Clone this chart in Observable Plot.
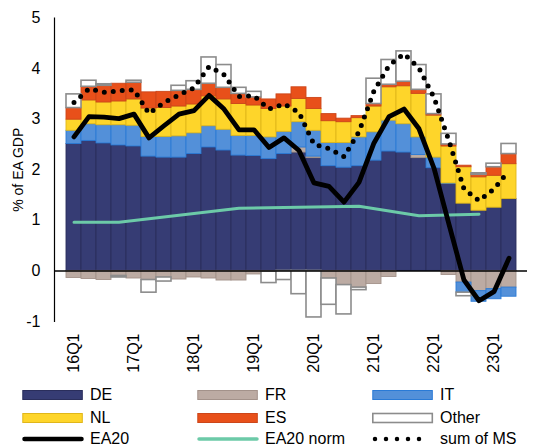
<!DOCTYPE html>
<html><head><meta charset="utf-8">
<script src="https://cdn.jsdelivr.net/npm/d3@7"></script>
<script src="https://cdn.jsdelivr.net/npm/@observablehq/plot@0.6"></script>
<style>
body{margin:0;background:#fff;font-family:"Liberation Sans",Arial,sans-serif;}
#legend{position:relative;width:533px;height:73px;font-size:16px;color:#000;}
.item{position:absolute;display:flex;align-items:center;height:18px;line-height:18px;}
.item svg{margin-right:6px;display:block}
</style></head><body>
<div id="chart"></div><div id="legend"></div>
<script>
const quarters = ["16Q1","16Q2","16Q3","16Q4","17Q1","17Q2","17Q3","17Q4","18Q1","18Q2","18Q3","18Q4",
  "19Q1","19Q2","19Q3","19Q4","20Q1","20Q2","20Q3","20Q4","21Q1","21Q2","21Q3","21Q4",
  "22Q1","22Q2","22Q3","22Q4","23Q1","23Q2"];
const tickLabels = ["16Q1","17Q1","18Q1","19Q1","20Q1","21Q1","22Q1","23Q1"];
const yTicks = [-1, 0, 1, 2, 3, 4, 5];

const DE    = [2.51,2.57,2.52,2.48,2.46,2.26,2.24,2.24,2.31,2.44,2.38,2.28,2.27,2.21,2.31,2.34,2.23,2.07,2.04,2.07,2.18,2.36,2.34,2.23,2.03,1.72,1.33,1.19,1.25,1.42];
const FR    = [-0.14,-0.16,-0.18,-0.10,-0.15,-0.18,-0.13,-0.17,-0.13,-0.15,-0.19,-0.19,-0.07,-0.01,0,0.10,0.03,-0.15,-0.28,-0.33,-0.26,-0.12,0,0.06,0,-0.08,-0.23,-0.40,-0.36,-0.33];
const IT    = [0.26,0.33,0.36,0.40,0.41,0.39,0.41,0.42,0.41,0.42,0.41,0.39,0.40,0.43,0.44,0.50,0.51,0.46,0.49,0.57,0.56,0.61,0.56,0.35,0.21,0.01,-0.20,-0.21,-0.20,-0.18];
const NL    = [0.22,0.47,0.45,0.47,0.52,0.56,0.57,0.59,0.57,0.59,0.60,0.63,0.60,0.56,0.50,0.46,0.43,0.43,0.41,0.38,0.51,0.66,0.75,0.86,0.83,0.73,0.72,0.66,0.63,0.69];
const ES    = [0.23,0.27,0.33,0.35,0.33,0.32,0.32,0.31,0.29,0.25,0.23,0.20,0.16,0.19,0.24,0.23,0.22,0.14,0.07,0.04,0.05,0.05,0.09,0.08,0.03,0.04,0.03,0.05,0.17,0.20];
const Other = [0.27,0.12,0.03,-0.03,0.04,-0.25,-0.08,0.10,0.17,0.52,0.45,0.12,0.11,-0.23,-0.18,-0.46,-0.92,-0.52,-0.58,-0.05,0.50,0.49,0.60,0.49,0.39,0.21,-0.07,0.03,0.07,0.20];

const EA20  = [2.65,3.05,3.04,3.01,3.10,2.63,2.87,3.10,3.17,3.47,3.20,2.79,2.79,2.44,2.63,2.38,1.74,1.67,1.36,1.75,2.53,3.05,3.20,2.81,2.03,0.92,-0.18,-0.59,-0.41,0.25];
const sumMS = [3.33,3.60,3.53,3.56,3.58,3.11,3.33,3.48,3.62,4.04,3.88,3.45,3.46,3.20,3.30,3.13,2.50,2.42,2.26,2.75,3.56,4.06,4.29,4.01,3.43,2.57,1.62,1.39,1.62,1.98];

const normQuarters = ["16Q1","16Q4","18Q4","20Q4","21Q4","22Q4"];
const normValues   = [0.96,0.96,1.24,1.28,1.09,1.12];

const seriesNames = ["DE","FR","IT","NL","ES","Other"];
const seriesArrays = [DE, FR, IT, NL, ES, Other];
const fills   = {DE:"#363c74", FR:"#bcaba3", IT:"#5390d9", NL:"#fed52a", ES:"#e8501a", Other:"#ffffff"};
const strokes = {DE:"#2a2e5c", FR:"#a3928a", IT:"#2a7ad6", NL:"#e0b61a", ES:"#cc461a", Other:"#8c8c8c"};

const rows = seriesNames.flatMap((s, k) => seriesArrays[k].map((v, i) => ({q: quarters[i], s, v}))).filter(d => d.v !== 0);
const eaRows = EA20.map((v, i) => ({q: quarters[i], v}));
const msRows = sumMS.map((v, i) => ({q: quarters[i], v}));
const normRows = normValues.map((v, i) => ({q: normQuarters[i], v}));

const chart = Plot.plot({
  width: 533, height: 375,
  marginLeft: 54, marginRight: 6, marginTop: 17.5, marginBottom: 54,
  style: {fontSize: "16px", fontFamily: "'Liberation Sans', Arial, sans-serif", color: "#000", background: "#fff"},
  x: {domain: quarters, padding: 0, label: null},
  y: {domain: [-1, 5], label: null},
  marks: [
    Plot.barY(rows, Plot.stackY({
      x: "q", y: "v", z: "s", order: seriesNames,
      fill: d => fills[d.s], stroke: d => strokes[d.s],
      strokeWidth: d => d.s === "Other" ? 1.6 : 0.9
    })),
    Plot.ruleY([0], {stroke: "#000", strokeWidth: 1.5}),
    Plot.frame({anchor: "left", stroke: "#000", strokeWidth: 1.2}),
    Plot.axisY({ticks: yTicks, tickFormat: d => String(d), tickSize: 0, tickPadding: 14, label: null, fontSize: 16}),
    Plot.axisX({ticks: tickLabels, tickRotate: -90, tickSize: 0, tickPadding: 12, label: null, fontSize: 16}),
    Plot.text(["% of EA GDP"], {frameAnchor: "left", dx: -36, rotate: -90, textAnchor: "middle", fontSize: 14}),
    Plot.line(normRows, {x: "q", y: "v", stroke: "#6ccaa8", strokeWidth: 3}),
    Plot.line(eaRows, {x: "q", y: "v", stroke: "#000", strokeWidth: 4.8, strokeLinejoin: "round", strokeLinecap: "round"}),
    Plot.line(msRows, {x: "q", y: "v", stroke: "#000", strokeWidth: 5, strokeDasharray: "0,9", strokeLinecap: "round"})
  ]
});
document.getElementById("chart").appendChild(chart);

// legend
const legendItems = [
  {name: "DE", kind: "rect", col: 0, row: 0},
  {name: "FR", kind: "rect", col: 1, row: 0},
  {name: "IT", kind: "rect", col: 2, row: 0},
  {name: "NL", kind: "rect", col: 0, row: 1},
  {name: "ES", kind: "rect", col: 1, row: 1},
  {name: "Other", kind: "rect", col: 2, row: 1},
  {name: "EA20", kind: "line", col: 0, row: 2},
  {name: "EA20 norm", kind: "norm", col: 1, row: 2},
  {name: "sum of MS", kind: "dots", col: 2, row: 2}
];
const colX = [22, 197, 372];
const rowY = [20, 42.5, 64];
const legend = d3.select("#legend");
for (const it of legendItems) {
  const div = legend.append("div").attr("class", "item")
    .style("left", colX[it.col] + "px").style("top", (rowY[it.row] - 9) + "px");
  const svg = div.append("svg").attr("width", 62).attr("height", 14);
  if (it.kind === "rect") {
    svg.append("rect").attr("x", 0.8).attr("y", 2.5).attr("width", 59.5).attr("height", 9)
      .attr("fill", fills[it.name]).attr("stroke", strokes[it.name]).attr("stroke-width", it.name === "Other" ? 1.6 : 1);
  } else if (it.kind === "line") {
    svg.append("line").attr("x1", 2.5).attr("x2", 59.5).attr("y1", 7).attr("y2", 7)
      .attr("stroke", "#000").attr("stroke-width", 4.5).attr("stroke-linecap", "round");
  } else if (it.kind === "norm") {
    svg.append("line").attr("x1", 2).attr("x2", 60).attr("y1", 7).attr("y2", 7)
      .attr("stroke", "#6ccaa8").attr("stroke-width", 3.5).attr("stroke-linecap", "round");
  } else {
    svg.append("line").attr("x1", 3).attr("x2", 58).attr("y1", 7).attr("y2", 7)
      .attr("stroke", "#000").attr("stroke-width", 4.5).attr("stroke-linecap", "round").attr("stroke-dasharray", "0,11");
  }
  div.append("span").text(it.name);
}
</script>
</body></html>
